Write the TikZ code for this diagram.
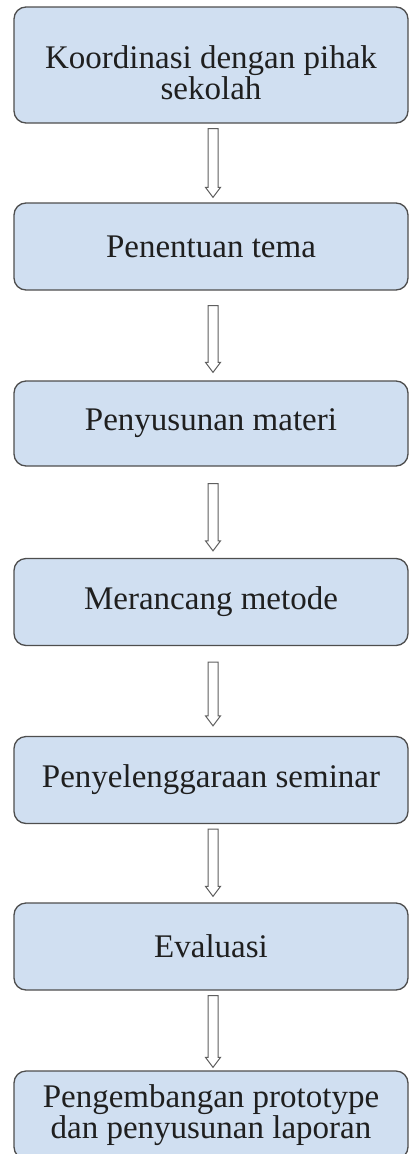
\documentclass[tikz,border=0pt]{standalone}
\usepackage{fontspec}
\setmainfont{Liberation Serif}
\usetikzlibrary{calc}

\definecolor{boxblue}{RGB}{208,223,241}
\definecolor{boxline}{RGB}{78,78,78}
\definecolor{arrowgray}{RGB}{95,95,95}

% hollow block arrow: from node, to node, gap at top, gap at tip
\newcommand{\hollowarrow}[4]{%
	\draw [arrowline] ($(#1.south)+(-3,-#3)$) -- ($(#2.north)+(-3,#4+10)$) -- ($(#2.north)+(-5.5,#4+10)$) -- ($(#2.north)+(2,#4)$) -- ($(#2.north)+(9.5,#4+10)$) -- ($(#2.north)+(7,#4+10)$) -- ($(#1.south)+(7,-#3)$) -- cycle;}

\begin{document}
\begin{tikzpicture}[x=1pt,y=1pt,
	stepbox/.style={rectangle, rounded corners=12pt, draw=boxline, line width=1.3pt, fill=boxblue,
		minimum width=394pt, minimum height=87pt, inner sep=0pt, align=center,
		text=black!88, font=\fontsize{33}{30}\selectfont},
	arrowline/.style={draw=arrowgray, line width=1pt, fill=white, line join=miter}]

	\useasboundingbox (0,0) rectangle (409,-1154);
	\clip (0,0) rectangle (409,-1154);

	\node [stepbox, minimum height=116pt, text height=70pt] (koordinasi) at (211,-65) {Koordinasi dengan pihak\\sekolah};
	\node [stepbox] (tema) at (211,-246.5) {Penentuan tema};
	\node [stepbox, minimum height=85pt] (materi) at (211,-423.5) {Penyusunan materi};
	\node [stepbox] (metode) at (211,-602) {Merancang metode};
	\node [stepbox] (seminar) at (211,-780) {Penyelenggaraan seminar};
	\node [stepbox] (evaluasi) at (211,-946.5) {Evaluasi};
	\node [stepbox, minimum height=88pt] (laporan) at (211,-1115) {Pengembangan prototype\\dan penyusunan laporan};

	\hollowarrow{koordinasi}{tema}{5}{5}
	\hollowarrow{tema}{materi}{15}{8}
	\hollowarrow{materi}{metode}{17}{7}
	\hollowarrow{metode}{seminar}{16}{10}
	\hollowarrow{seminar}{evaluasi}{5}{6}
	\hollowarrow{evaluasi}{laporan}{5}{3}

\end{tikzpicture}
\end{document}
